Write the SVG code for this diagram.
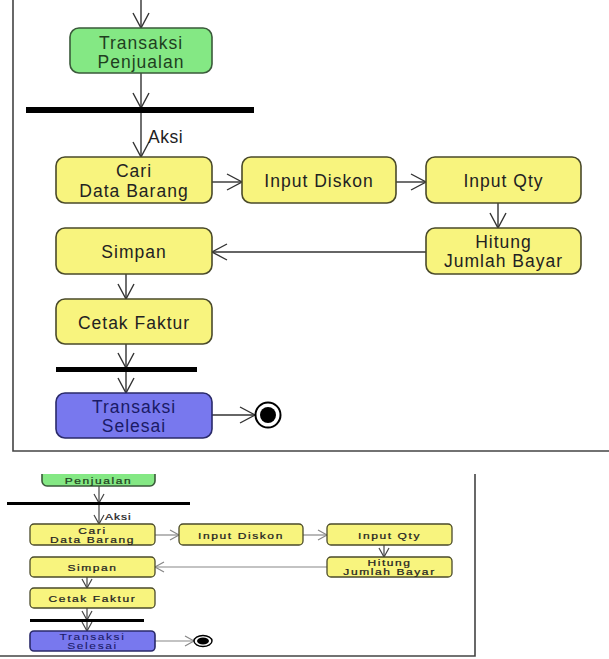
<svg xmlns="http://www.w3.org/2000/svg" width="609" height="659" viewBox="0 0 609 659">
<style>
.t{font-family:"Liberation Sans",Arial,sans-serif;font-size:17.5px;letter-spacing:1px;fill:#222;text-anchor:middle}
.s{font-family:"Liberation Sans",Arial,sans-serif;font-size:12px;letter-spacing:1.6px;fill:#222;stroke:#222;stroke-width:0.3;text-anchor:middle}
.y{fill:#f8f47e;stroke:#4a4a2a;stroke-width:1.6}
.ys{fill:#f8f47e;stroke:#4a4a2a;stroke-width:1.3}
.g{fill:#84e884;stroke:#3a5a3a;stroke-width:1.6}
.b{fill:#7878ee;stroke:#2a2a6a;stroke-width:1.6}
.c{stroke:#333;stroke-width:1.4;fill:none}
.cs{stroke:#444;stroke-width:1.2;fill:none}
.cl{stroke:#888;stroke-width:1.2;fill:none}
.bar{fill:#000}
.frame{stroke:#444;stroke-width:1.6;fill:none}
</style>
<defs>
<marker id="a" markerUnits="userSpaceOnUse" markerWidth="18" markerHeight="18" viewBox="0 0 16 18" refX="15" refY="9" orient="auto">
<path d="M0,1 L15,9 L0,17" fill="none" stroke="#333" stroke-width="1.4"/>
</marker>
<marker id="as" markerUnits="userSpaceOnUse" markerWidth="12" markerHeight="12" viewBox="0 0 10 12" refX="9" refY="6" orient="auto">
<path d="M0,1 L9,6 L0,11" fill="none" stroke="#444" stroke-width="1.2"/>
</marker>
<marker id="asl" markerUnits="userSpaceOnUse" markerWidth="12" markerHeight="12" viewBox="0 0 10 12" refX="9" refY="6" orient="auto">
<path d="M0,1 L9,6 L0,11" fill="none" stroke="#888" stroke-width="1.2"/>
</marker>
<clipPath id="clipB"><rect x="0" y="474" width="609" height="185"/></clipPath>
</defs>
<rect width="609" height="659" fill="#fff"/>

<!-- ===== Top diagram ===== -->
<g id="frame-top">
<path class="frame" d="M13,0 V451 H609"/>
</g>

<g id="connectors-top">
<line class="c" x1="141" y1="0" x2="141" y2="28" marker-end="url(#a)"/>
<line class="c" x1="141" y1="73" x2="141" y2="108" marker-end="url(#a)"/>
<line class="c" x1="141" y1="113" x2="141" y2="157" marker-end="url(#a)"/>
<line class="c" x1="212" y1="182" x2="242" y2="182" marker-end="url(#a)"/>
<line class="c" x1="396" y1="182" x2="426" y2="182" marker-end="url(#a)"/>
<line class="c" x1="498" y1="203" x2="498" y2="228" marker-end="url(#a)"/>
<line class="c" x1="426" y1="252" x2="212" y2="252" marker-end="url(#a)"/>
<line class="c" x1="126" y1="274" x2="126" y2="299" marker-end="url(#a)"/>
<line class="c" x1="126" y1="344" x2="126" y2="368" marker-end="url(#a)"/>
<line class="c" x1="126" y1="372" x2="126" y2="393" marker-end="url(#a)"/>
<line class="c" x1="212" y1="415" x2="255" y2="415" marker-end="url(#a)"/>
<text class="t" x="148" y="143" style="text-anchor:start;letter-spacing:0.5px">Aksi</text>
</g>

<g id="start-transaksi">
<rect class="g" x="70" y="28" width="142" height="45" rx="9"/>
<text class="t" x="141" y="49" style="fill:#1f3f1f">Transaksi</text>
<text class="t" x="141" y="68" style="fill:#1f3f1f">Penjualan</text>
</g>
<g id="fork-top"><rect class="bar" x="26" y="107" width="228" height="6"/></g>
<g id="cari">
<rect class="y" x="56" y="157" width="156" height="46" rx="9"/>
<text class="t" x="134" y="177">Cari</text>
<text class="t" x="134" y="196.5">Data Barang</text>
</g>
<g id="diskon">
<rect class="y" x="242" y="157" width="154" height="46" rx="9"/>
<text class="t" x="319" y="187">Input Diskon</text>
</g>
<g id="qty">
<rect class="y" x="426" y="157" width="155" height="46" rx="9"/>
<text class="t" x="503.5" y="187">Input Qty</text>
</g>
<g id="hitung">
<rect class="y" x="426" y="228" width="155" height="46" rx="9"/>
<text class="t" x="503.5" y="248">Hitung</text>
<text class="t" x="503.5" y="267">Jumlah Bayar</text>
</g>
<g id="simpan">
<rect class="y" x="56" y="228" width="156" height="46" rx="9"/>
<text class="t" x="134" y="258">Simpan</text>
</g>
<g id="cetak">
<rect class="y" x="56" y="299" width="156" height="45" rx="9"/>
<text class="t" x="134" y="329">Cetak Faktur</text>
</g>
<g id="join-top"><rect class="bar" x="56" y="367" width="141" height="5"/></g>
<g id="selesai">
<rect class="b" x="56" y="393" width="156" height="45" rx="9"/>
<text class="t" x="134" y="413" style="fill:#1a1a66">Transaksi</text>
<text class="t" x="134" y="432" style="fill:#1a1a66">Selesai</text>
</g>
<g id="end-top">
<circle cx="268" cy="415" r="12.5" fill="#fff" stroke="#000" stroke-width="2"/>
<circle cx="268" cy="415" r="8" fill="#000"/>
</g>

<!-- ===== Bottom diagram (smaller copy) ===== -->
<g clip-path="url(#clipB)">
<g id="frame-bottom">
<path class="frame" d="M0,656 H475 V474" stroke-width="1.8"/>
</g>
<g id="connectors-bottom">
<line class="cs" x1="99" y1="486" x2="99" y2="503" marker-end="url(#as)"/>
<line class="cs" x1="99" y1="504" x2="99" y2="524" marker-end="url(#as)"/>
<line class="cl" x1="155" y1="535" x2="179" y2="535" marker-end="url(#asl)"/>
<line class="cl" x1="303" y1="535" x2="327" y2="535" marker-end="url(#asl)"/>
<line class="cs" x1="384" y1="545" x2="384" y2="557" marker-end="url(#as)"/>
<line class="cl" x1="327" y1="567" x2="155" y2="567" marker-end="url(#asl)"/>
<line class="cs" x1="87" y1="577" x2="87" y2="588" marker-end="url(#as)"/>
<line class="cs" x1="87" y1="608" x2="87" y2="620" marker-end="url(#as)"/>
<line class="cs" x1="87" y1="621" x2="87" y2="631" marker-end="url(#as)"/>
<line class="cl" x1="155" y1="641" x2="194" y2="641" marker-end="url(#asl)"/>
<text class="s" transform="translate(105,519.5) scale(1,0.72)" style="text-anchor:start;letter-spacing:1px">Aksi</text>
</g>
<g id="start-transaksi-b">
<rect class="g" x="42" y="460" width="113" height="26" rx="5" stroke-width="1.3"/>
<text class="s" transform="translate(98.5,484) scale(1,0.72)" style="fill:#1f3f1f;stroke:#1f3f1f">Penjualan</text>
</g>
<g id="fork-b"><rect class="bar" x="7" y="502" width="183" height="3"/></g>
<g id="cari-b">
<rect class="ys" x="30" y="524" width="125" height="21" rx="4"/>
<text class="s" transform="translate(92.5,533.5) scale(1,0.72)">Cari</text>
<text class="s" transform="translate(92.5,543) scale(1,0.72)">Data Barang</text>
</g>
<g id="diskon-b">
<rect class="ys" x="179" y="524" width="124" height="21" rx="4"/>
<text class="s" transform="translate(241,538.5) scale(1,0.72)">Input Diskon</text>
</g>
<g id="qty-b">
<rect class="ys" x="327" y="524" width="125" height="21" rx="4"/>
<text class="s" transform="translate(389.5,538.5) scale(1,0.72)">Input Qty</text>
</g>
<g id="hitung-b">
<rect class="ys" x="327" y="557" width="125" height="20" rx="4"/>
<text class="s" transform="translate(389.5,565.5) scale(1,0.72)">Hitung</text>
<text class="s" transform="translate(389.5,575) scale(1,0.72)">Jumlah Bayar</text>
</g>
<g id="simpan-b">
<rect class="ys" x="30" y="557" width="125" height="20" rx="4"/>
<text class="s" transform="translate(92.5,571) scale(1,0.72)">Simpan</text>
</g>
<g id="cetak-b">
<rect class="ys" x="30" y="588" width="125" height="20" rx="4"/>
<text class="s" transform="translate(92.5,602) scale(1,0.72)">Cetak Faktur</text>
</g>
<g id="join-b"><rect class="bar" x="30" y="619" width="114" height="3"/></g>
<g id="selesai-b">
<rect class="b" x="30" y="631" width="125" height="20" rx="4" stroke-width="1.3"/>
<text class="s" transform="translate(92.5,639.5) scale(1,0.72)" style="fill:#1a1a66;stroke:#1a1a66;stroke-width:0.1">Transaksi</text>
<text class="s" transform="translate(92.5,649) scale(1,0.72)" style="fill:#1a1a66;stroke:#1a1a66;stroke-width:0.1">Selesai</text>
</g>
<g id="end-b">
<ellipse cx="203" cy="641" rx="9" ry="5.5" fill="#fff" stroke="#000" stroke-width="1.4"/>
<ellipse cx="203" cy="641" rx="6" ry="3.5" fill="#000"/>
</g>
</g>
</svg>
